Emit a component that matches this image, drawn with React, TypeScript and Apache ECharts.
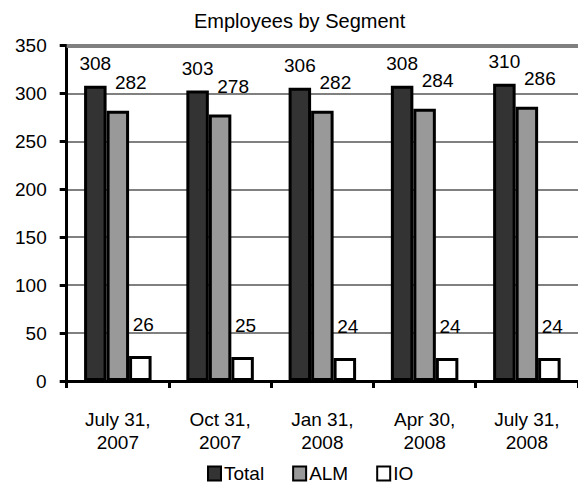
import React, { useEffect, useRef } from "react";
import * as echarts from "echarts";

const categories = ["July 31,\n2007", "Oct 31,\n2007", "Jan 31,\n2008", "Apr 30,\n2008", "July 31,\n2008"];
const totalValues = [308, 303, 306, 308, 310];
const almValues = [282, 278, 282, 284, 286];
const ioValues = [26, 25, 24, 24, 24];
const seriesNames = ["Total", "ALM", "IO"];
const titleText = "Employees by Segment";

const FONT = "'Liberation Sans', Arial, sans-serif";

export default function App() {
  const ref = useRef<HTMLDivElement>(null);
  useEffect(() => {
    if (!ref.current) return;
    const chart = echarts.init(ref.current, null, { renderer: "svg" });
    const labelBase = { show: true, position: "top", color: "#000", fontSize: 19, fontFamily: FONT };
    const itemBase = { borderColor: "#000", borderWidth: 3 };
    chart.setOption({
      animation: false,
      backgroundColor: "#fff",
      textStyle: { fontFamily: FONT },
      title: {
        text: titleText,
        left: 194,
        top: 11,
        padding: 0,
        textStyle: { fontSize: 20, fontWeight: "normal", color: "#000", fontFamily: FONT },
      },
      legend: {
        data: seriesNames,
        left: 207,
        top: 464,
        padding: 0,
        itemGap: 28,
        itemWidth: 13,
        itemHeight: 14,
        icon: "rect",
        textStyle: { fontSize: 19, color: "#000", fontFamily: FONT, padding: [0, 0, 0, -2] },
      },
      grid: { left: 66.7, top: 45.5, width: 521.5, height: 335.5, containLabel: false },
      xAxis: {
        type: "category",
        data: categories,
        axisLine: { show: true, lineStyle: { color: "#000", width: 3 } },
        axisTick: { show: true, length: 7, lineStyle: { color: "#000", width: 3 } },
        axisLabel: { color: "#000", fontSize: 19, lineHeight: 23, margin: 27, fontFamily: FONT, interval: 0 },
      },
      yAxis: {
        type: "value",
        min: 0,
        max: 350,
        interval: 50,
        axisLine: { show: true, lineStyle: { color: "#000", width: 3 } },
        axisTick: { show: true, length: 7, lineStyle: { color: "#000", width: 3 } },
        axisLabel: { color: "#000", fontSize: 19, margin: 20, fontFamily: FONT },
        splitLine: { show: true, lineStyle: { color: "#808080", width: 2 } },
      },
      series: [
        {
          name: seriesNames[0],
          type: "bar",
          data: totalValues,
          barGap: "0%",
          barCategoryGap: "34%",
          itemStyle: { ...itemBase, color: "#333333" },
          label: { ...labelBase, distance: 13 },
          markLine: {
            silent: true,
            symbol: "none",
            label: { show: false },
            lineStyle: { color: "#808080", width: 4, type: "solid" },
            data: [{ yAxis: 350 }],
          },
        },
        {
          name: seriesNames[1],
          type: "bar",
          data: almValues,
          barGap: "0%",
          barCategoryGap: "34%",
          itemStyle: { ...itemBase, color: "#999999" },
          label: { ...labelBase, distance: 19, offset: [13, 0] },
        },
        {
          name: seriesNames[2],
          type: "bar",
          data: ioValues,
          barGap: "0%",
          barCategoryGap: "34%",
          itemStyle: { ...itemBase, color: "#ffffff" },
          label: { ...labelBase, distance: 22, offset: [3, 0] },
        },
      ],
    });
    return () => chart.dispose();
  }, []);
  return (
    <div
      ref={ref}
      style={{ position: "fixed", left: 0, top: 0, width: 578, height: 488, background: "#fff" }}
    />
  );
}
